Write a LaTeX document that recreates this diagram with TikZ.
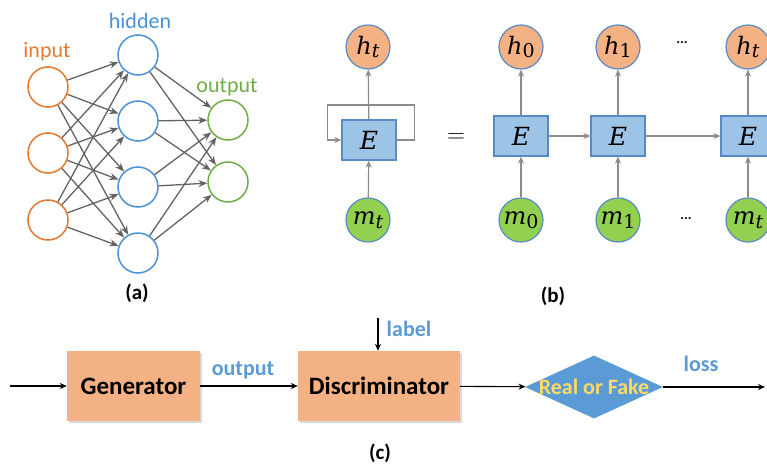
\documentclass[tikz,border=0pt]{standalone}
\usepackage{fontspec}
\setmainfont{Carlito}
\newfontfamily\symfont{DejaVu Serif}
\usetikzlibrary{arrows.meta,shapes.geometric,shadows}

\definecolor{inOrange}{HTML}{E5792F}
\definecolor{hidBlue}{HTML}{4A92D8}
\definecolor{outGreen}{HTML}{6DAE45}
\definecolor{edgeGray}{HTML}{636363}
\definecolor{rnnGray}{HTML}{8C8C8C}
\definecolor{salmon}{HTML}{F4B183}
\definecolor{cellBlue}{HTML}{9DC3E6}
\definecolor{cellEdge}{HTML}{5A8AC6}
\definecolor{leafGreen}{HTML}{92D050}
\definecolor{tagBlue}{HTML}{5B9BD5}
\definecolor{fakeYellow}{HTML}{FFD966}

% symbol with a large, slightly lowered subscript
\newcommand{\varsub}[2]{{\symfont\itshape #1}\raisebox{-0.32ex}{\fontsize{19}{22}\symfont #2}}

\tikzset{
  neuron/.style={circle, minimum size=40pt, inner sep=0pt, line width=1.5pt, fill=white},
  nnarrow/.style={draw=edgeGray, line width=1.3pt, -{Stealth[length=9pt,width=7pt]}},
  layertag/.style={font=\fontsize{22}{26}\selectfont, inner sep=0pt},
  panel/.style={font=\bfseries\fontsize{21}{25}\selectfont, inner sep=0pt},
  state/.style={circle, minimum size=44pt, inner sep=0pt, line width=1.2pt, draw=cellEdge,
    font=\fontsize{24}{28}\selectfont},
  cell/.style={rectangle, minimum width=54pt, minimum height=40pt, inner sep=0pt,
    fill=cellBlue, draw=cellEdge, line width=1.2pt, font=\fontsize{25}{30}\symfont\itshape},
  rarrow/.style={draw=rnnGray, line width=1.2pt, -{Stealth[length=7pt,width=6pt]}},
  rdots/.style={font=\bfseries\fontsize{14}{16}\selectfont, inner sep=0pt},
  ganbox/.style={rectangle, fill=salmon, inner sep=0pt, minimum height=70pt,
    font=\bfseries\fontsize{25}{30}\selectfont,
    drop shadow={shadow xshift=1.5pt, shadow yshift=-1.5pt, opacity=0.3}},
  flow/.style={draw=black, line width=1.1pt, -{Stealth[length=7pt,width=6pt]}},
  flowtag/.style={text=tagBlue, font=\bfseries\fontsize{22}{26}\selectfont, inner sep=0pt},
}

\begin{document}
\begin{tikzpicture}[x=1pt, y=-1pt]
  \useasboundingbox (0,0) rectangle (767,471);

  % ---------- (a) feed-forward network ----------
  \foreach \i/\y in {1/87,2/153,3/220}
    \node[neuron, draw=inOrange] (in\i) at (48,\y) {};
  \foreach \j/\y in {1/55,2/121,3/187,4/253}
    \node[neuron, draw=hidBlue] (hd\j) at (138,\y) {};
  \foreach \k/\y in {1/120,2/182}
    \node[neuron, draw=outGreen] (out\k) at (228,\y) {};

  \foreach \i in {1,2,3}
    \foreach \j in {1,2,3,4}
      \draw[nnarrow] (in\i) -- (hd\j);
  \foreach \j in {1,2,3,4}
    \foreach \k in {1,2}
      \draw[nnarrow] (hd\j) -- (out\k);

  \node[layertag, text=inOrange] (tagIn) at (47,52) {input};
  \node[layertag, text=hidBlue] (tagHid) at (140,21) {hidden};
  \node[layertag, text=outGreen] (tagOut) at (227,87) {output};
  \node[panel] (capA) at (137,293) {(a)};

  % ---------- (b) recurrent cell and its unrolled form ----------
  \node[cell] (E) at (369,140) {E};
  \node[state, fill=salmon] (ht) at (368,47) {\varsub{h}{\itshape t}};
  \node[state, fill=leafGreen] (mt) at (368,220) {\varsub{m}{\itshape t}};
  \draw[rarrow] (E) -- (ht);
  \draw[rarrow] (mt) -- (E);
  \draw[rarrow] (E.east) -- ++(18,0) -- ++(0,-35) -- ++(-87,0) -- ++(0,35) -- (E.west);

  \node[font=\fontsize{24.88}{30}\selectfont, inner sep=0pt] (eq) at (456,138) {$=$};

  \foreach \n/\x/\s in {0/521/0, 1/618/1, t/748/\itshape t} {
    \node[cell] (E\n) at (\x,136) {E};
    \node[state, fill=salmon] (h\n) at (\x,47) {\varsub{h}{\s}};
    \node[state, fill=leafGreen] (m\n) at (\x,220) {\varsub{m}{\s}};
    \draw[rarrow] (E\n) -- (h\n);
    \draw[rarrow] (m\n) -- (E\n);
  }
  \draw[rarrow] (E0) -- (E1);
  \draw[rarrow] (E1) -- (Et);
  \node[rdots] (dotsTop) at (682,43) {...};
  \node[rdots] (dotsBot) at (686,219) {...};
  \node[panel] (capB) at (553,296) {(b)};

  % ---------- (c) generative adversarial network ----------
  \node[ganbox, minimum width=133pt] (gen) at (133.5,386) {Generator};
  \node[ganbox, minimum width=162pt] (disc) at (379,386) {Discriminator};
  \node[diamond, fill=tagBlue, minimum width=138pt, minimum height=63pt, inner sep=0pt] (judge) at (594,387) {};
  \node[text=fakeYellow, font=\bfseries\fontsize{22}{26}\selectfont, inner sep=0pt] (judgeText) at (judge) {Real or Fake};

  \coordinate (noise) at (10,386);
  \coordinate (lblTop) at (378,318);
  \coordinate (lossEnd) at (765,387);

  \draw[flow] (noise) -- (gen);
  \draw[flow] (gen) -- (disc);
  \draw[flow] (lblTop) -- (lblTop |- disc.north);
  \draw[flow] (disc) -- (judge);
  \draw[flow] (judge) -- (lossEnd);

  \node[flowtag] (tagOutput) at (243,370) {output};
  \node[flowtag] (tagLabel) at (409,329) {label};
  \node[flowtag] (tagLoss) at (701,364) {loss};
  \node[panel] (capC) at (380,453) {(c)};
\end{tikzpicture}
\end{document}
